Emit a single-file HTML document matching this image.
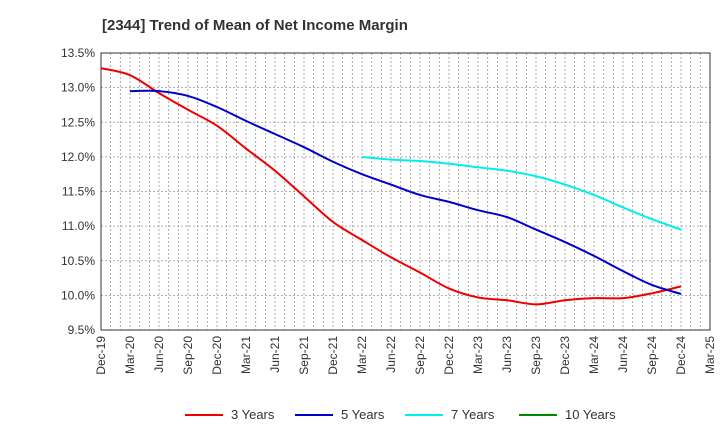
<!DOCTYPE html>
<html><head><meta charset="utf-8"><style>
body{margin:0;background:#fff;font-family:"Liberation Sans",sans-serif}
svg text{font-family:"Liberation Sans",sans-serif}
</style></head><body>
<svg id="chart" width="720" height="440" xmlns="http://www.w3.org/2000/svg">
<text x="102" y="30" font-size="15" font-weight="bold" fill="#333">[2344]  Trend of Mean of Net Income Margin</text>
<g id="grid"></g><g id="axes"></g><g id="series"></g><g id="legend"></g>
</svg>
<script>
const xLabels=["Dec-19","Mar-20","Jun-20","Sep-20","Dec-20","Mar-21","Jun-21","Sep-21","Dec-21","Mar-22","Jun-22","Sep-22","Dec-22","Mar-23","Jun-23","Sep-23","Dec-23","Mar-24","Jun-24","Sep-24","Dec-24","Mar-25"];
const yTicks=[9.5,10.0,10.5,11.0,11.5,12.0,12.5,13.0,13.5];
const y3=[13.28,13.18,12.92,12.68,12.45,12.12,11.8,11.43,11.06,10.8,10.55,10.33,10.1,9.97,9.93,9.87,9.93,9.96,9.96,10.03,10.13];
const y5=[null,12.95,12.95,12.88,12.72,12.52,12.33,12.14,11.93,11.75,11.6,11.45,11.35,11.23,11.13,10.95,10.77,10.57,10.35,10.15,10.02];
const y7=[null,null,null,null,null,null,null,null,null,12.0,11.96,11.94,11.9,11.85,11.8,11.72,11.6,11.45,11.27,11.1,10.95];
const y10=[];
const seriesNames=["3 Years","5 Years","7 Years","10 Years"];
const colors=["#e00","#00c","#0ee","#080"];
const NS="http://www.w3.org/2000/svg";
const L=101,R=710,T=53,B=330;
const xs=i=>L+(R-L)*i/(xLabels.length-1);
const ys=v=>B-(v-9.5)/(13.5-9.5)*(B-T);
function mk(tag,attrs,parent){const e=document.createElementNS(NS,tag);for(const k in attrs)e.setAttribute(k,attrs[k]);parent.appendChild(e);return e;}
const grid=document.getElementById('grid'),axes=document.getElementById('axes'),ser=document.getElementById('series'),leg=document.getElementById('legend');
const nMonths=(xLabels.length-1)*3;
for(let m=1;m<nMonths;m++){const x=L+(R-L)*m/nMonths;const g=mk('line',{x1:x,x2:x,y1:T,y2:B,stroke:'#999','stroke-dasharray':'2,2','stroke-width':0.8},grid);

}
yTicks.forEach(v=>{const y=ys(v);const g=mk('line',{x1:L,x2:R,y1:y,y2:y,stroke:'#999','stroke-dasharray':'2,2','stroke-width':0.8},grid);


const t=mk('text',{x:L-6,y:y+4,'text-anchor':'end','font-size':12,fill:'#333'},axes);t.textContent=v.toFixed(1)+'%';

});
const fr=mk('rect',{x:L,y:T,width:R-L,height:B-T,fill:'none',stroke:'#333','stroke-width':1},axes);


xLabels.forEach((s,i)=>{const x=xs(i);const t=mk('text',{x:x+4,y:B+6,'text-anchor':'end','font-size':12,fill:'#333',transform:`rotate(-90 ${x+4} ${B+6})`},axes);t.textContent=s;

});
function path(arr){const pts=[];arr.forEach((v,i)=>{if(v!=null)pts.push([xs(i),ys(v)]);});if(pts.length<2)return '';
let d=`M${pts[0][0]},${pts[0][1]}`;for(let i=0;i<pts.length-1;i++){const p0=pts[i-1]||pts[i],p1=pts[i],p2=pts[i+1],p3=pts[i+2]||p2;
d+=` C${p1[0]+(p2[0]-p0[0])/6},${p1[1]+(p2[1]-p0[1])/6} ${p2[0]-(p3[0]-p1[0])/6},${p2[1]-(p3[1]-p1[1])/6} ${p2[0]},${p2[1]}`;}return d;}
[y3,y5,y7,y10].forEach((arr,k)=>{const d=path(arr);if(!d)return;const p=mk('path',{d:d,fill:'none',stroke:colors[k],'stroke-width':2},ser);

});
const lx=[185,295,405,519];
seriesNames.forEach((n,k)=>{const g=mk('g',{},leg);


mk('line',{x1:lx[k],x2:lx[k]+38,y1:415,y2:415,stroke:colors[k],'stroke-width':2},g);
const t=mk('text',{x:lx[k]+46,y:419,'font-size':13,fill:'#333'},g);t.textContent=n;});
</script>
</body></html>
